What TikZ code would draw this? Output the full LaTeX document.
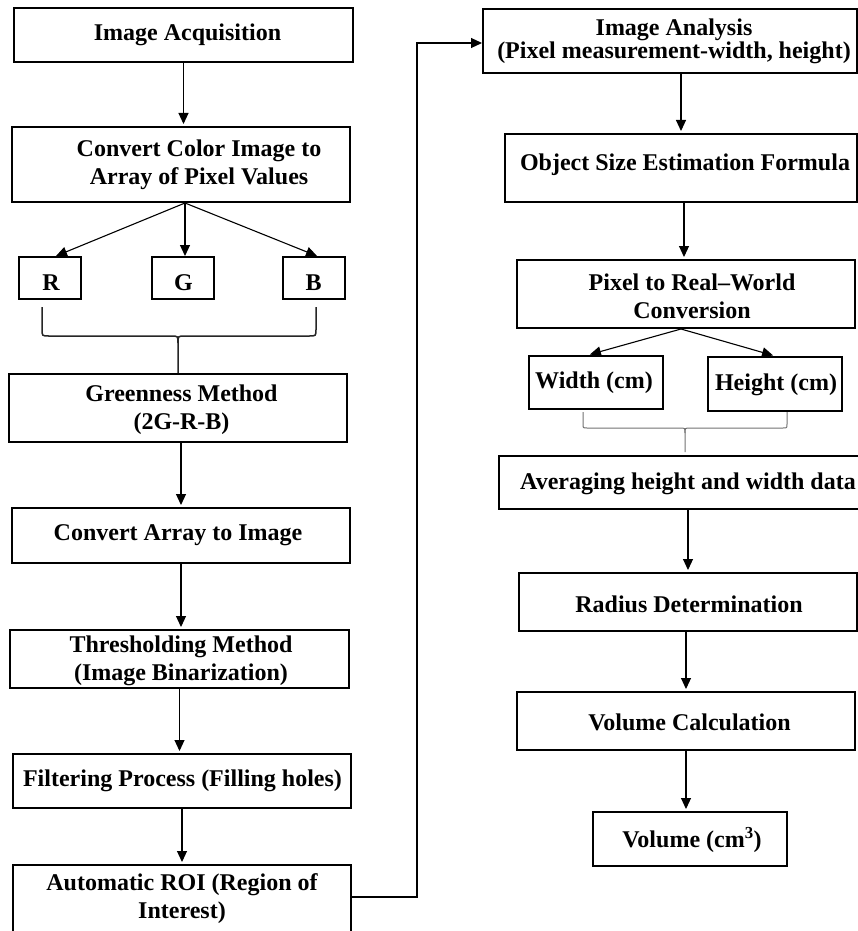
\documentclass[tikz,border=0pt]{standalone}
\usepackage{fontspec}
\setmainfont{Liberation Serif}
\usetikzlibrary{arrows.meta,calc}
\begin{document}
\begin{tikzpicture}[x=1pt,y=-1pt,
  box/.style={draw=black, line width=2pt, inner sep=0pt, fill=white},
  lbl/.style={font=\fontsize{24}{28}\selectfont\bfseries, align=center, inner sep=0pt},
  arr/.style={draw=black, line width=1.1pt, -{Triangle[length=11pt,width=10pt]}},
  gap/.style={shorten >=2pt},
  link/.style={draw=black, line width=1.1pt},
  lbrace/.style={draw=black!85, line width=1.5pt},
  rbrace/.style={draw=black!55, line width=1pt}]
\useasboundingbox (0,0) rectangle (858,931);
\clip (0,0) rectangle (858,931);
\fill[white] (0,0) rectangle (858,931);

% ---------- left column: boxes ----------
\node[box, minimum width=339pt, minimum height=54pt] (acq)   at (183.5,35)  {};
\node[box, minimum width=338pt, minimum height=75pt] (conv)  at (181,164.5) {};
\node[box, minimum width=62pt,  minimum height=42pt] (R)     at (50,278)    {};
\node[box, minimum width=62pt,  minimum height=42pt] (G)     at (183,278)   {};
\node[box, minimum width=62pt,  minimum height=42pt] (B)     at (314,278)   {};
\node[box, minimum width=338pt, minimum height=68pt] (green) at (178,408)   {};
\node[box, minimum width=338pt, minimum height=55pt] (arr2)  at (181,535.5) {};
\node[box, minimum width=339pt, minimum height=58pt] (thr)   at (179.5,659) {};
\node[box, minimum width=338pt, minimum height=54pt] (filt)  at (182,781)   {};
\node[box, minimum width=338pt, minimum height=80pt] (roi)   at (182,905)   {};

% ---------- left column: labels ----------
\node[lbl] (acq-t)   at (187.5,35)  {Image Acquisition};
\node[lbl] (conv-t)  at (199,164.5) {Convert Color Image to\\Array of Pixel Values};
\node[lbl] (R-t)     at (51,283)    {R};
\node[lbl] (G-t)     at (183.5,283) {G};
\node[lbl] (B-t)     at (313.5,283) {B};
\node[lbl] (green-t) at (181.5,410) {Greenness Method\\(2G-R-B)};
\node[lbl] (arr2-t)  at (178,535.5) {Convert Array to Image};
\node[lbl] (thr-t)   at (181,661)   {Thresholding Method\\(Image Binarization)};
\node[lbl] (filt-t)  at (182.5,781) {Filtering Process (Filling holes)};
\node[lbl] (roi-t)   at (182,899)   {Automatic ROI (Region of\\Interest)};

% ---------- right column: boxes ----------
\node[box, minimum width=374pt, minimum height=64pt] (ana) at (670,41)    {};
\node[box, minimum width=352pt, minimum height=68pt] (obj) at (681,168)   {};
\node[box, minimum width=338pt, minimum height=68pt] (p2r) at (686,294)   {};
\node[box, minimum width=134pt, minimum height=53pt] (wid) at (596,382.5) {};
\node[box, minimum width=134pt, minimum height=54pt] (hei) at (775,384)   {};
\node[box, minimum width=378pt, minimum height=53pt] (avg) at (688,482.5) {};
\node[box, minimum width=338pt, minimum height=58pt] (rad) at (688,602)   {};
\node[box, minimum width=338pt, minimum height=58pt] (vol) at (686,721)   {};
\node[box, minimum width=194pt, minimum height=54pt] (vcm) at (690,839)   {};

% ---------- right column: labels ----------
\node[lbl, font=\fontsize{24}{23}\selectfont\bfseries] (ana-t) at (674,41)
  {Image Analysis\\(Pixel measurement-width, height)};
\node[lbl] (obj-t) at (685,165)   {Object Size Estimation Formula};
\node[lbl] (p2r-t) at (692,296)   {Pixel to Real--World\\Conversion};
\node[lbl] (wid-t) at (594,383)   {Width (cm)};
\node[lbl] (hei-t) at (776,385)   {Height (cm)};
\node[lbl] (avg-t) at (688,484)   {Averaging height and width data};
\node[lbl] (rad-t) at (689,604)   {Radius Determination};
\node[lbl] (vol-t) at (689.5,722) {Volume Calculation};
\node[lbl] (vcm-t) at (692,840)   {Volume (cm\textsuperscript{3})};

% ---------- left column: connectors ----------
\draw[arr,gap] (acq.south) -- (acq.south |- conv.north);
\coordinate (split1) at (185,203);
\draw[arr] (split1) -- ([xshift=6pt]R.north);
\draw[arr] (split1) -- (G.north -| split1);
\draw[arr] (split1) -- ([xshift=3pt]B.north);

% brace gathering R, G and B into the greenness step
\coordinate (brL) at (42,307);
\coordinate (brR) at (316,307);
\coordinate (brC) at (178,343);
\draw[lbrace] (brL) -- (42,329) .. controls (42,336) .. (49,336) -- (171,336)
  .. controls (178,336) .. (brC) -- (green.north);
\draw[lbrace] (brR) -- (316,329) .. controls (316,336) .. (309,336) -- (185,336)
  .. controls (178,336) .. (brC);

\draw[arr,gap] (green.south -| arr2.north) -- (arr2.north);
\draw[arr,gap] (arr2.south) -- (arr2.south |- thr.north);
\draw[arr,gap] (thr.south) -- (thr.south |- filt.north);
\draw[arr,gap] (filt.south) -- (filt.south |- roi.north);

% ROI output routed up to the analysis step
\coordinate (up1) at (417,897);
\coordinate (up2) at (417,43);
\draw[arr] (roi.east |- up1) -- (up1) -- (up2) -- (up2 -| ana.west);

% ---------- right column: connectors ----------
\draw[arr,gap] (ana.south -| obj.north) -- (obj.north);
\draw[arr,gap] ([xshift=3pt]obj.south) -- ([xshift=3pt]obj.south |- p2r.north);
\coordinate (split2) at (681,329);
\draw[arr,gap] (split2) -- ([xshift=-8pt]wid.north);
\draw[arr,gap] (split2) -- (hei.north);

% brace gathering width and height into the averaging step
\coordinate (bwL) at (583,412);
\coordinate (bwR) at (787,412);
\coordinate (bwC) at (685,433);
\coordinate (bwE) at (685,452);
\draw[rbrace] (bwL) -- (583,424) .. controls (583,428) .. (587,428) -- (680,428)
  .. controls (685,428) .. (bwC) -- (bwE);
\draw[rbrace] (bwR) -- (787,424) .. controls (787,428) .. (783,428) -- (690,428)
  .. controls (685,428) .. (bwC);

\draw[arr,gap] (avg.south) -- (avg.south |- rad.north);
\draw[arr,gap] (rad.south -| vol.north) -- (vol.north);
\draw[arr,gap] (vol.south) -- (vol.south |- vcm.north);
\end{tikzpicture}
\end{document}
